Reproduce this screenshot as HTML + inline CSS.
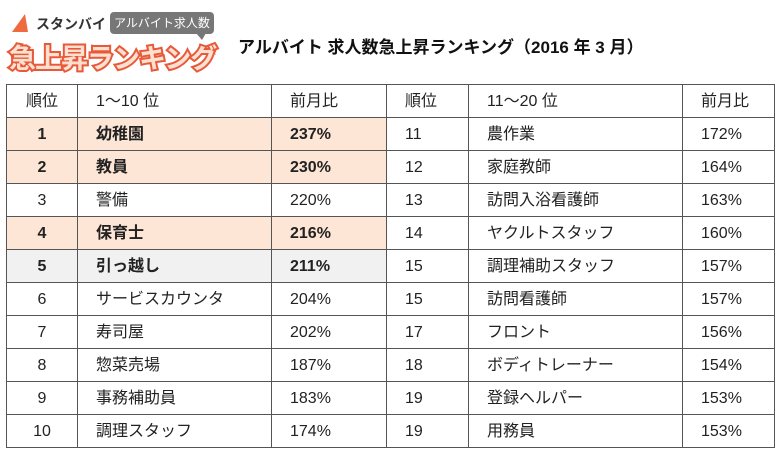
<!DOCTYPE html>
<html><head><meta charset="utf-8"><style>
body{margin:0;width:784px;height:459px;background:#fff;position:relative;overflow:hidden;font-family:"Liberation Sans","Noto Sans CJK JP",sans-serif;color:#222}
.a{position:absolute;white-space:nowrap}
table{position:absolute;left:6px;top:84px;border-collapse:collapse;font-size:16px}
td{border:1.5px solid #555;height:31.4px;padding:0;line-height:31px}
tr{height:33px}
.p{background:#fde6d6}.g{background:#f1f1f1}
.b td{font-weight:bold}
.c{text-align:center}
td.l{padding-left:18px}
td.r{padding-left:18px}
</style></head><body>
<svg class="a" style="left:12px;top:14px" width="18" height="20"><polygon points="13,0 16,18 0,18" fill="#f06a3f"/></svg>
<div class="a" style="left:36px;top:14px;font-size:14px;font-weight:bold;color:#333">スタンバイ</div>
<div class="a" style="left:110px;top:12px;width:104px;height:22px;background:#777;border-radius:4px;color:#fff;font-size:12px;line-height:22px;text-align:center">アルバイト求人数</div>
<svg class="a" style="left:196px;top:33px" width="12" height="8"><polygon points="0,0 10,0 6,7" fill="#777"/></svg>
<div class="a" style="left:9px;top:42px;font-size:27px;font-weight:bold;color:#f07050;letter-spacing:-1px;-webkit-text-stroke:4px #e8593a;line-height:34px">急上昇ランキング</div>
<div class="a" style="left:9px;top:42px;font-size:27px;font-weight:bold;color:#fde0d0;letter-spacing:-1px;line-height:34px">急上昇ランキング</div>
<div class="a" style="left:238px;top:33px;font-size:17px;font-weight:bold;color:#111">アルバイト 求人数急上昇ランキング（2016 年 3 月）</div>
<table>
<colgroup><col style="width:71px"><col style="width:194px"><col style="width:115px"><col style="width:82px"><col style="width:214px"><col style="width:92px"></colgroup>
<tr><td class="c">順位</td><td class="l">1～10 位</td><td class="l">前月比</td><td class="r">順位</td><td class="r">11～20 位</td><td class="r">前月比</td></tr>
<tr class="b"><td class="c p">1</td><td class="l p">幼稚園</td><td class="l p">237%</td><td class="r" style="font-weight:normal">11</td><td class="r" style="font-weight:normal">農作業</td><td class="r" style="font-weight:normal">172%</td></tr>
<tr class="b"><td class="c p">2</td><td class="l p">教員</td><td class="l p">230%</td><td class="r" style="font-weight:normal">12</td><td class="r" style="font-weight:normal">家庭教師</td><td class="r" style="font-weight:normal">164%</td></tr>
<tr><td class="c">3</td><td class="l">警備</td><td class="l">220%</td><td class="r">13</td><td class="r">訪問入浴看護師</td><td class="r">163%</td></tr>
<tr class="b"><td class="c p">4</td><td class="l p">保育士</td><td class="l p">216%</td><td class="r" style="font-weight:normal">14</td><td class="r" style="font-weight:normal">ヤクルトスタッフ</td><td class="r" style="font-weight:normal">160%</td></tr>
<tr class="b"><td class="c g">5</td><td class="l g">引っ越し</td><td class="l g">211%</td><td class="r" style="font-weight:normal">15</td><td class="r" style="font-weight:normal">調理補助スタッフ</td><td class="r" style="font-weight:normal">157%</td></tr>
<tr><td class="c">6</td><td class="l">サービスカウンタ</td><td class="l">204%</td><td class="r">15</td><td class="r">訪問看護師</td><td class="r">157%</td></tr>
<tr><td class="c">7</td><td class="l">寿司屋</td><td class="l">202%</td><td class="r">17</td><td class="r">フロント</td><td class="r">156%</td></tr>
<tr><td class="c">8</td><td class="l">惣菜売場</td><td class="l">187%</td><td class="r">18</td><td class="r">ボディトレーナー</td><td class="r">154%</td></tr>
<tr><td class="c">9</td><td class="l">事務補助員</td><td class="l">183%</td><td class="r">19</td><td class="r">登録ヘルパー</td><td class="r">153%</td></tr>
<tr><td class="c">10</td><td class="l">調理スタッフ</td><td class="l">174%</td><td class="r">19</td><td class="r">用務員</td><td class="r">153%</td></tr>
</table>
</body></html>
